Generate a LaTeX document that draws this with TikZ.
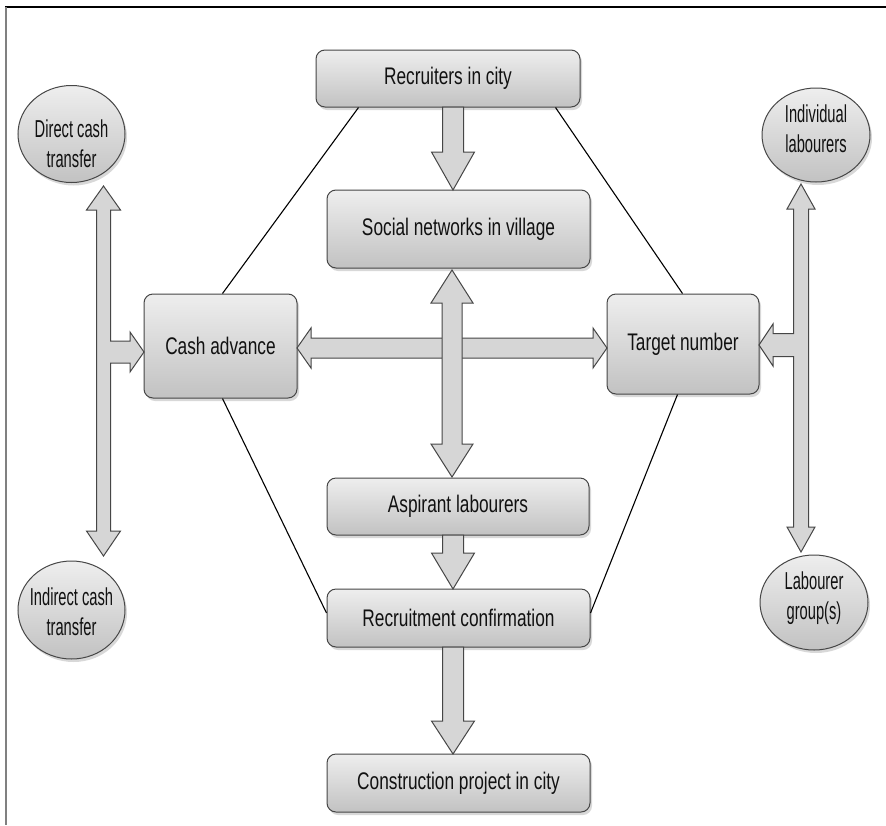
\documentclass[tikz,border=0pt]{standalone}
\usepackage{fontspec}
\setmainfont{Liberation Sans}[FakeStretch=0.72]
\newfontfamily\ovalfont{Liberation Sans}[FakeStretch=0.6]
\usetikzlibrary{shapes.geometric,shadows,calc}
\definecolor{boxtop}{HTML}{EEEEEE}
\definecolor{boxbot}{HTML}{C2C2C2}
\definecolor{edge}{HTML}{464646}
\definecolor{arrfill}{HTML}{D6D6D6}
\definecolor{txt}{HTML}{111111}
\newcommand\dnarrow[6]{% cx, ystart, ytip, shaft half, head half, head len
  \draw[blockarrow] ({#1-#4},#2) -- ({#1-#4},{#3-#6}) -- ({#1-#5},{#3-#6}) -- (#1,#3)
    -- ({#1+#5},{#3-#6}) -- ({#1+#4},{#3-#6}) -- ({#1+#4},#2) -- cycle;}
\newcommand\vdarrow[6]{% cx, ytop tip, ybot tip, w, h, L
  \draw[blockarrow] (#1,#2) -- ({#1+#5},{#2+#6}) -- ({#1+#4},{#2+#6}) -- ({#1+#4},{#3-#6})
    -- ({#1+#5},{#3-#6}) -- (#1,#3) -- ({#1-#5},{#3-#6}) -- ({#1-#4},{#3-#6})
    -- ({#1-#4},{#2+#6}) -- ({#1-#5},{#2+#6}) -- cycle;}
\newcommand\hdarrow[6]{% cy, xleft tip, xright tip, w, h, L
  \draw[blockarrow] (#2,#1) -- ({#2+#6},{#1-#5}) -- ({#2+#6},{#1-#4}) -- ({#3-#6},{#1-#4})
    -- ({#3-#6},{#1-#5}) -- (#3,#1) -- ({#3-#6},{#1+#5}) -- ({#3-#6},{#1+#4})
    -- ({#2+#6},{#1+#4}) -- ({#2+#6},{#1+#5}) -- cycle;}
\tikzset{
  box/.style={rectangle, rounded corners=9pt, draw=edge, line width=1pt,
    top color=boxtop, bottom color=boxbot, text=txt, align=center,
    inner sep=0pt, font=\fontsize{24}{30}\selectfont,
    drop shadow={shadow xshift=2pt, shadow yshift=-3pt, opacity=0.3}},
  oval/.style={ellipse, draw=edge, line width=1pt, top color=boxtop,
    bottom color=boxbot, inner sep=0pt,
    drop shadow={shadow xshift=2pt, shadow yshift=-3pt, opacity=0.3}},
  ovaltext/.style={text=txt, align=center, inner sep=0pt,
    font=\ovalfont\fontsize{24.5}{30}\selectfont},
  blockarrow/.style={draw=edge, line width=1pt, fill=arrfill, line join=miter},
  thinline/.style={draw=black, line width=1.1pt}
}
\begin{document}
\begin{tikzpicture}[x=1pt,y=-1pt]
\useasboundingbox (0,0) rectangle (886,825);
\fill[white] (0,0) rectangle (886,825);
% frame
\draw[line width=1.5pt] (5,7) -- (886,7);
\draw[line width=2.5pt, draw=gray] (6,7) -- (6,825);

% nodes
\node[box, minimum width=264pt, minimum height=57pt] (rec) at (448,78.5) {Recruiters in city};
\node[box, minimum width=263pt, minimum height=78pt] (soc) at (458.5,229) {Social networks in village};
\node[box, minimum width=153pt, minimum height=104pt] (cash) at (220.5,346) {Cash advance};
\node[box, minimum width=152pt, minimum height=100pt] (tgt) at (683,344) {Target number};
\node[box, minimum width=262pt, minimum height=57pt] (asp) at (458,506.5) {Aspirant labourers};
\node[box, minimum width=263pt, minimum height=58pt] (conf) at (458.5,618) {Recruitment confirmation};
\node[box, minimum width=263pt, minimum height=58pt] (cons) at (458.5,783) {Construction project in city};

\node[oval, minimum width=107pt, minimum height=97pt] (dct) at (71.5,134) {};
\node[ovaltext] at ($(dct)+(0,10)$) {Direct cash\\transfer};
\node[oval, minimum width=107pt, minimum height=98pt] (ict) at (71.5,610) {};
\node[ovaltext] at ($(ict)+(0,2)$) {Indirect cash\\transfer};
\node[oval, minimum width=108pt, minimum height=94pt] (ind) at (816,135) {};
\node[ovaltext] at ($(ind)+(0,-6)$) {Individual\\labourers};
\node[oval, minimum width=108pt, minimum height=95pt] (grp) at (814,602.5) {};
\node[ovaltext] at ($(grp)+(0,-4)$) {Labourer\\group(s)};

% thin connectors
\draw[thinline] ($(rec.south west)+(43,0)$) -- ($(cash.north west)+(79,0)$);
\draw[thinline] ($(rec.south east)+(-25,0)$) -- ($(tgt.north west)+(76,0)$);
\draw[thinline] ($(cash.south west)+(79,0)$) -- ($(conf.west)+(0,-5)$);
\draw[thinline] ($(tgt.south west)+(71,0)$) -- ($(conf.east)+(0,-5)$);

% block arrows
\dnarrow{453}{107}{190}{10.5}{21.5}{38}
\dnarrow{453}{535}{589}{10.5}{21.5}{36}
\dnarrow{453}{647}{754}{10.5}{21.5}{33}
\hdarrow{348}{297}{607}{10}{20}{14}
\vdarrow{452}{270}{477}{10}{21}{33}

% left T-arrow
\draw[blockarrow] (103.5,186) -- (120.5,210) -- (110.5,210) -- (110.5,341) -- (130,341)
  -- (130,332) -- (144,352) -- (130,372) -- (130,363) -- (110.5,363) -- (110.5,531)
  -- (120.5,531) -- (103.5,556) -- (86.5,531) -- (96.5,531) -- (96.5,210) -- (86.5,210) -- cycle;
% right T-arrow
\draw[blockarrow] (801,184) -- (815,209) -- (808.5,209) -- (808.5,527) -- (815,527)
  -- (801,552) -- (787,527) -- (793.5,527) -- (793.5,356.5) -- (773,356.5) -- (773,366)
  -- (759,345) -- (773,324) -- (773,333.5) -- (793.5,333.5) -- (793.5,209) -- (787,209) -- cycle;
\end{tikzpicture}
\end{document}
